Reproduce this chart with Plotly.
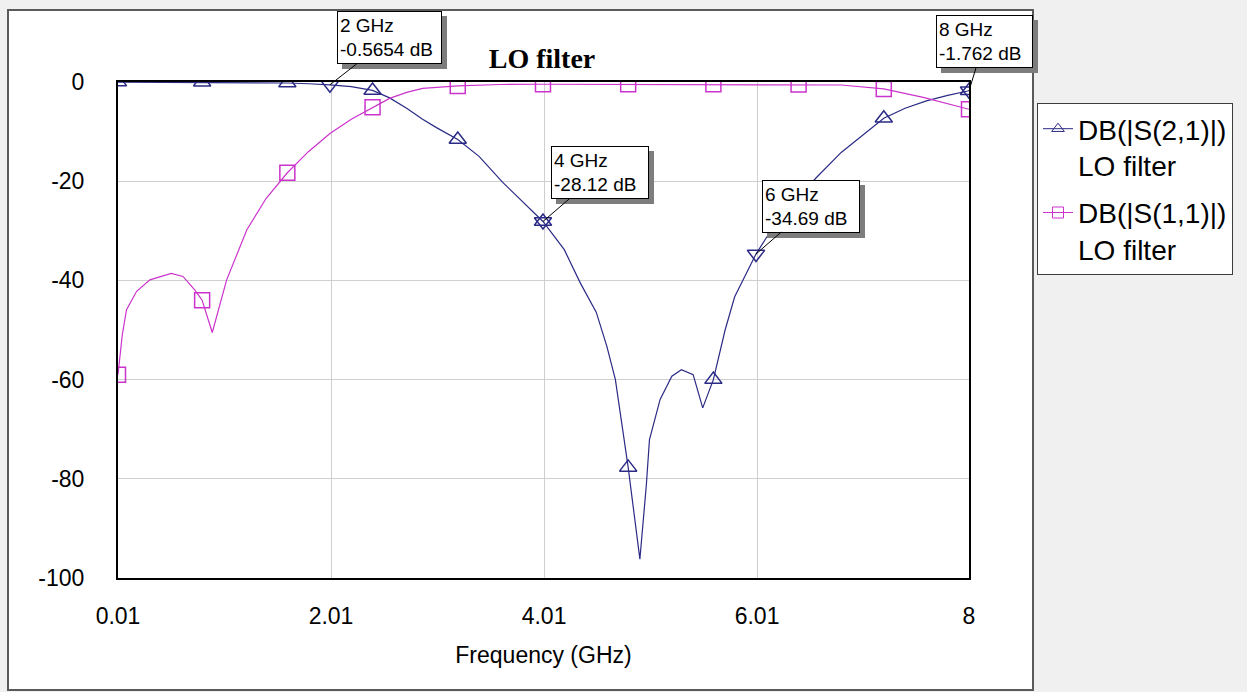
import plotly.graph_objects as go

# ---------------- data ----------------
freq_s21 = [0.01, 0.8, 1.6, 1.8, 2.0, 2.2, 2.4, 2.56, 2.72, 2.87, 3.0, 3.2, 3.4, 3.62,
            3.8, 4.0, 4.2, 4.35, 4.5, 4.6, 4.68, 4.74, 4.8, 4.91, 4.97, 5.0, 5.1,
            5.21, 5.3, 5.41, 5.5, 5.6, 5.71, 5.8, 5.88, 6.0, 6.1, 6.25, 6.4, 6.57,
            6.8, 7.0, 7.2, 7.4, 7.6, 7.8, 8.0]
s21_db = [-0.02, -0.05, -0.2, -0.35, -0.5654, -0.95, -1.7, -3.2, -5.3, -7.5, -9.2, -11.6,
          -15.0, -20.2, -24.0, -28.12, -33.8, -40.5, -46.4, -53.3, -60.0, -68.7, -77.7,
          -96.2, -81.4, -72.1, -64.0, -59.3, -58.0, -59.0, -65.7, -60.0, -50.0, -43.3,
          -39.9, -34.69, -31.3, -27.0, -23.2, -19.2, -14.2, -10.8, -7.3, -5.3, -3.8,
          -2.7, -1.762]

freq_s11 = [0.01, 0.05, 0.09, 0.185, 0.31, 0.51, 0.62, 0.73, 0.8, 0.895, 1.03, 1.12,
            1.22, 1.4, 1.6, 1.8, 2.0, 2.2, 2.4, 2.56, 2.72, 2.87, 3.2, 3.6, 4.0, 4.8,
            5.6, 6.4, 6.8, 7.2, 7.57, 8.0]
s11_db = [-59.0, -51.0, -45.9, -42.2, -39.9, -38.6, -39.2, -41.9, -44.0, -50.5, -39.9,
          -35.2, -29.8, -23.5, -18.3, -14.0, -10.4, -7.5, -5.1, -3.3, -2.1, -1.3, -0.8,
          -0.5, -0.45, -0.45, -0.45, -0.5, -0.6, -1.4, -3.1, -5.5]

symbol_freqs = [0.01, 0.8, 1.6, 2.4, 3.2, 4.0, 4.8, 5.6, 6.4, 7.2, 8.0]

marker_freqs = [2.0, 4.0, 6.0, 8.0]
marker_labels = ["2 GHz<br>-0.5654 dB", "4 GHz<br>-28.12 dB",
                 "6 GHz<br>-34.69 dB", "8 GHz<br>-1.762 dB"]

x_tickvals = [0.01, 2.01, 4.01, 6.01, 8]
x_ticktext = ["0.01", "2.01", "4.01", "6.01", "8"]
y_tickvals = [0, -20, -40, -60, -80, -100]
y_ticktext = ["0", "-20", "-40", "-60", "-80", "-100"]

name_s21 = "DB(|S(2,1)|)<br>LO filter"
name_s11 = "DB(|S(1,1)|)<br>LO filter"
title_text = "LO filter"
x_title = "Frequency (GHz)"

# ---------------- styles ----------------
C21 = "#2b2b86"
C11 = "#cc33cc"
FONT = "Liberation Sans, Arial, sans-serif"

# marker points taken from the dense series
s21_sym = [(f, v) for f, v in zip(freq_s21, s21_db) if f in symbol_freqs]
s11_sym = [(f, v) for f, v in zip(freq_s11, s11_db) if f in symbol_freqs]
mk = [(f, v) for f, v in zip(freq_s21, s21_db) if f in marker_freqs]

fig = go.Figure()

# curves
fig.add_trace(go.Scatter(x=freq_s21, y=s21_db, mode="lines",
                         line=dict(color=C21, width=1.2), showlegend=False,
                         hoverinfo="skip"))
fig.add_trace(go.Scatter(x=freq_s11, y=s11_db, mode="lines",
                         line=dict(color=C11, width=1.2), showlegend=False,
                         hoverinfo="skip"))
# data symbols
fig.add_trace(go.Scatter(x=[p[0] for p in s11_sym], y=[p[1] for p in s11_sym],
                         mode="markers", showlegend=False, cliponaxis=True,
                         marker=dict(symbol="square-open", size=15, color=C11,
                                     line=dict(width=1.5))))
fig.add_trace(go.Scatter(x=[p[0] for p in s21_sym], y=[p[1] for p in s21_sym],
                         mode="markers", showlegend=False, cliponaxis=True,
                         marker=dict(symbol="triangle-up-open", size=15, color=C21,
                                     line=dict(width=1.5))))
# marker (readout) symbols
fig.add_trace(go.Scatter(x=[p[0] for p in mk], y=[p[1] for p in mk],
                         mode="markers", showlegend=False, cliponaxis=True,
                         marker=dict(symbol="triangle-down-open", size=15, color=C21,
                                     line=dict(width=1.5))))

# legend entries
fig.add_trace(go.Scatter(x=[None], y=[None], mode="lines+markers", name=name_s21,
                         legendgroup="a",
                         line=dict(color=C21, width=1),
                         marker=dict(symbol="triangle-up-open", size=11, color=C21,
                                     line=dict(width=1))))
fig.add_trace(go.Scatter(x=[None], y=[None], mode="lines+markers", name=name_s11,
                         legendgroup="b",
                         line=dict(color=C11, width=1),
                         marker=dict(symbol="square-open", size=11, color=C11,
                                     line=dict(width=1))))

# plot geometry (pixels)
W, H = 1247, 692
L, R, T, B = 118, 278, 82, 114
pw, ph = W - L - R, H - T - B

def px(xp):
    return (xp - L) / pw

def py(yp):
    return (H - B - yp) / ph

# white chart panel with frame
fig.add_shape(type="rect", xref="paper", yref="paper", layer="below",
              x0=px(8), x1=px(1033), y0=py(690), y1=py(10),
              fillcolor="white", line=dict(color="#5a5a5a", width=2))

# marker readout boxes: (ax, ay, width)
box_geo = [(60, -47, 99), (57, -49, 92), (55, -48, 92), (15, -49, 91)]
for (f, v), (ax, ay, w) in zip(mk, box_geo):
    fig.add_annotation(x=f, y=v, text=" ", showarrow=True, ax=ax + 5, ay=ay + 5,
                       arrowcolor="rgba(0,0,0,0)", width=w, height=47,
                       font=dict(family=FONT, size=19),
                       bgcolor="#7d7d7d", bordercolor="#7d7d7d", borderwidth=1,
                       borderpad=2)
for (f, v), txt, (ax, ay, w) in zip(mk, marker_labels, box_geo):
    fig.add_annotation(x=f, y=v, text=txt, showarrow=True, ax=ax, ay=ay,
                       arrowhead=0, arrowwidth=1, arrowcolor="black", standoff=0,
                       align="left", width=w, height=47,
                       font=dict(family=FONT, size=19, color="black"),
                       bgcolor="white", bordercolor="black", borderwidth=1,
                       borderpad=2)

fig.update_layout(
    width=W, height=H,
    margin=dict(l=L, r=R, t=T, b=B),
    paper_bgcolor="#f0f0f0",
    plot_bgcolor="white",
    font=dict(family=FONT, color="black"),
    title=dict(text="<b>" + title_text + "</b>", x=px(542), xref="paper",
               xanchor="center", y=1 - 58 / H, yref="container", yanchor="middle",
               font=dict(family="Liberation Serif, Times New Roman, serif", size=28,
                         color="black")),
    showlegend=True,
    legend=dict(x=px(1037), y=py(103), xanchor="left", yanchor="top",
                bgcolor="white", bordercolor="#3c3c3c", borderwidth=1,
                font=dict(family=FONT, size=28, color="black"),
                valign="top", tracegroupgap=8),
    xaxis=dict(range=[0.01, 8], tickvals=x_tickvals, ticktext=x_ticktext,
               showgrid=True, gridcolor="#cfcfcf", gridwidth=1, zeroline=False,
               showline=True, linecolor="black", linewidth=2, mirror=True,
               ticks="", ticklabelstandoff=16, tickfont=dict(size=23),
               title=dict(text=x_title, font=dict(size=23), standoff=19)),
    yaxis=dict(range=[-100, 0], tickvals=y_tickvals, ticktext=y_ticktext,
               showgrid=True, gridcolor="#cfcfcf", gridwidth=1, zeroline=False,
               showline=True, linecolor="black", linewidth=2, mirror=True,
               ticks="", ticklabelstandoff=27, tickfont=dict(size=23)),
)

fig.write_html("out.html")
